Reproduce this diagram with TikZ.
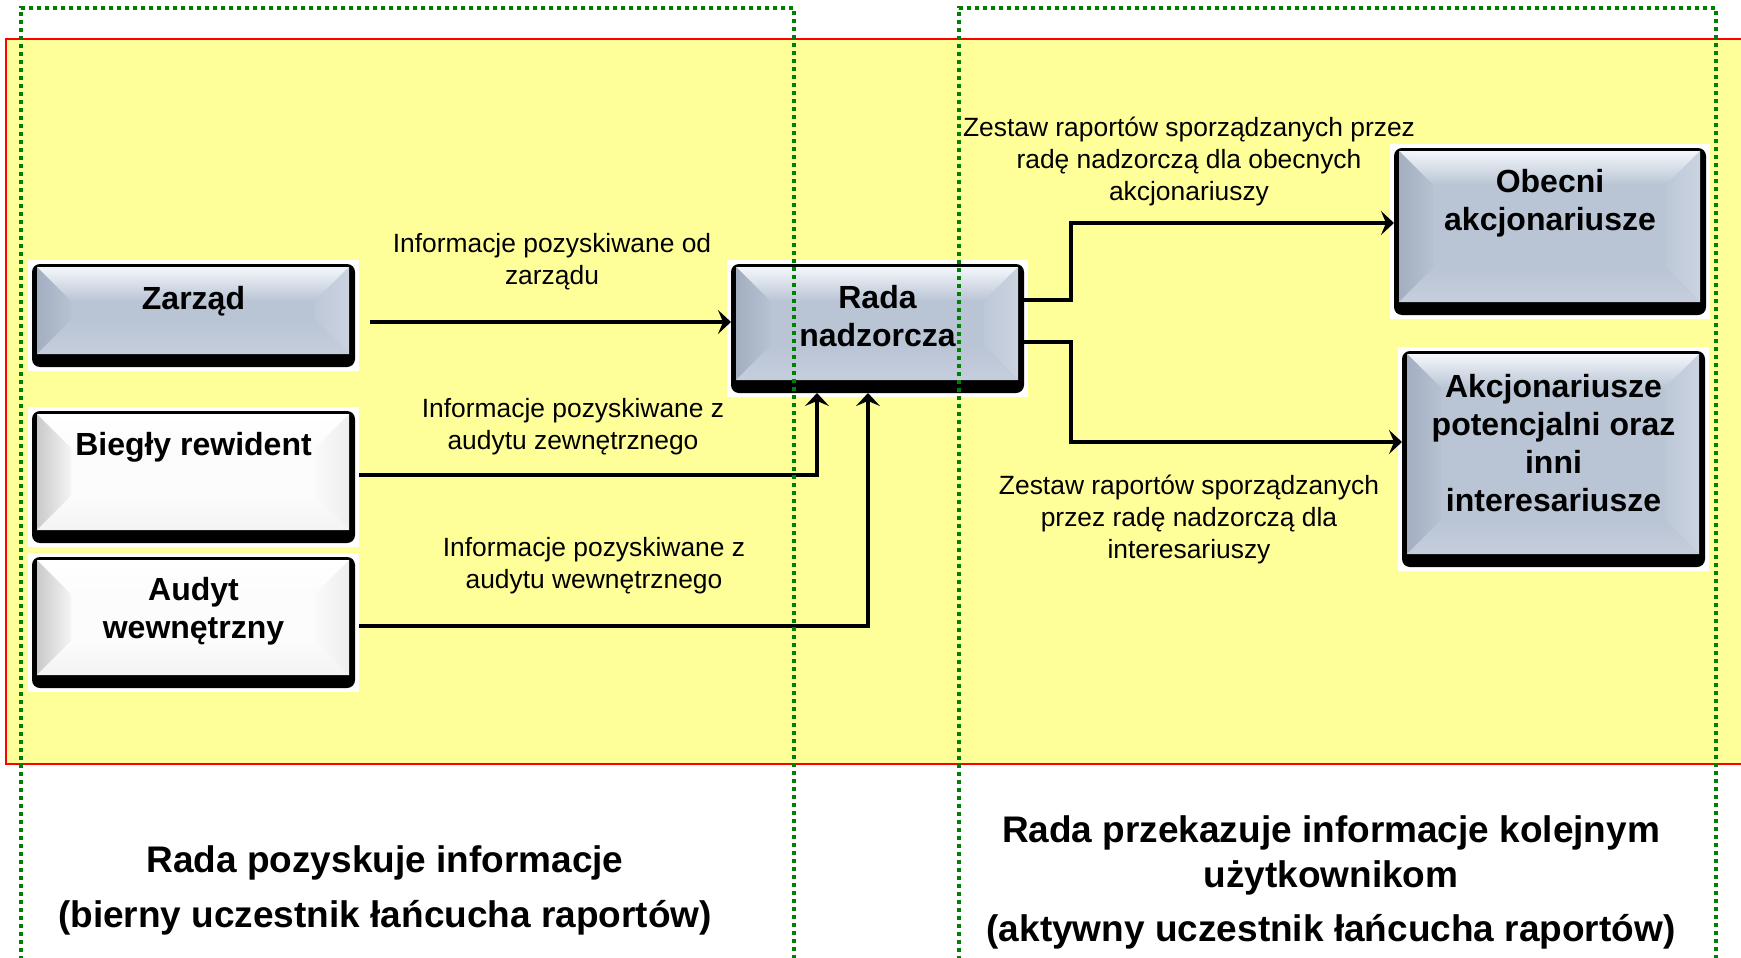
\documentclass[tikz,border=0pt]{standalone}
\usepackage{fontspec}
\setmainfont{Liberation Sans}
\usetikzlibrary{arrows.meta,calc}
\definecolor{bgyellow}{HTML}{FFFF99}
\definecolor{dotgreen}{HTML}{008000}
% blue key face
\definecolor{bmain}{HTML}{B9C4D5}
\definecolor{btop}{HTML}{F4F7FB}
\definecolor{bleft}{HTML}{A3AEC0}
\definecolor{bleftin}{HTML}{B6C1D2}
\definecolor{brightin}{HTML}{BDC8D8}
\definecolor{bright}{HTML}{CBD3E0}
\definecolor{bbot}{HTML}{C6CEDC}
% white key face
\definecolor{wmain}{HTML}{FCFCFC}
\definecolor{wtop}{HTML}{FFFFFF}
\definecolor{wleft}{HTML}{CACACA}
\definecolor{wleftin}{HTML}{F4F4F4}
\definecolor{wrightin}{HTML}{FAFAFA}
\definecolor{wright}{HTML}{EEEEEE}
\definecolor{wbot}{HTML}{F3F3F3}
\newcommand\keydraw[2]{%
  \fill[white] ([shift={(-4,-4)}]#1.north west) rectangle ([shift={(4,4)}]#1.south east);
  \fill[black, rounded corners=4pt] (#1.north west) rectangle (#1.south east);
  \coordinate (#1A) at ([shift={(5,3)}]#1.north west);
  \coordinate (#1B) at ([shift={(-6,3)}]#1.north east);
  \coordinate (#1C) at ([shift={(-6,-13)}]#1.south east);
  \coordinate (#1D) at ([shift={(5,-13)}]#1.south west);
  \coordinate (#1a) at ([shift={(34,34)}]#1A);
  \coordinate (#1b) at ([shift={(-34,34)}]#1B);
  \coordinate (#1c) at ([shift={(-34,-34)}]#1C);
  \coordinate (#1d) at ([shift={(34,-34)}]#1D);
  \fill[#2main] (#1A) rectangle (#1C);
  \shade[top color=#2top, bottom color=#2main] (#1A) -- (#1B) -- (#1b) -- (#1a) -- cycle;
  \shade[left color=#2left, right color=#2leftin] (#1A) -- (#1a) -- (#1d) -- (#1D) -- cycle;
  \shade[left color=#2rightin, right color=#2right] (#1B) -- (#1b) -- (#1c) -- (#1C) -- cycle;
  \shade[top color=#2main, bottom color=#2bot] (#1D) -- (#1d) -- (#1c) -- (#1C) -- cycle;
}
\tikzset{
  keynode/.style={inner sep=0pt, outer sep=0pt, draw=none},
  keytext/.style={font=\fontsize{16pt}{19pt}\selectfont\bfseries, align=center, inner sep=0pt},
  lbl/.style={font=\fontsize{13.2pt}{16pt}\selectfont, align=center, inner sep=0pt},
  ttl/.style={font=\fontsize{18.5pt}{22.5pt}\selectfont\bfseries, align=center, inner sep=0pt},
  conn/.style={line width=2pt, line join=miter, -{Stealth[length=6.5pt,width=12pt,inset=2.5pt]}},
  zone/.style={draw=dotgreen, line width=1.8pt, dash pattern=on 2pt off 2pt},
  area/.style={fill=bgyellow, draw=red, line width=1pt}
}
\begin{document}
\begin{tikzpicture}[x=0.5pt,y=-0.5pt]
\useasboundingbox (0,0) rectangle (1741,958);
\fill[white] (0,0) rectangle (1741,958);
\path[area] (6,39) rectangle (1750,764);

% boxes
\node[keynode, minimum width=161.5pt, minimum height=51.5pt] (zarzad) at (193.5,315.5) {};
\node[keynode, minimum width=161.5pt, minimum height=66pt] (biegly) at (193.5,477) {};
\node[keynode, minimum width=161.5pt, minimum height=65.5pt] (audyt) at (193.5,622.5) {};
\node[keynode, minimum width=146.5pt, minimum height=64.5pt] (rada) at (877.5,328.5) {};
\node[keynode, minimum width=156pt, minimum height=83.5pt] (obecni) at (1550,231.5) {};
\node[keynode, minimum width=151.5pt, minimum height=108pt] (akcj) at (1553.5,459) {};
\keydraw{zarzad}{b}
\keydraw{biegly}{w}
\keydraw{audyt}{w}
\keydraw{rada}{b}
\keydraw{obecni}{b}
\keydraw{akcj}{b}

\node[keytext] (zarzadt) at (193.5,301.5) {Zarząd};
\node[keytext] (bieglyt) at (193.5,447.5) {Biegły rewident};
\node[keytext] (audytt) at (193.5,611.5) {Audyt\\wewnętrzny};
\node[keytext] (radat) at (877.5,316.5) {Rada\\nadzorcza};
\node[keytext] (obecnit) at (1550,203) {Obecni\\akcjonariusze};
\node[keytext] (akcjt) at (1553.5,443.5) {Akcjonariusze\\potencjalni oraz\\inni\\interesariusze};

% connectors
\coordinate (z1) at ([yshift=-3.25pt]zarzad.east);
\draw[conn] ([xshift=7.5pt]z1) -- (z1 -| rada.west);
\coordinate (b1) at ([yshift=1pt]biegly.east);
\coordinate (b2) at ([xshift=-30.25pt]rada.south);
\draw[conn] ([xshift=2pt]b1) -| (b2);
\coordinate (a1) at ([yshift=-1.75pt]audyt.east);
\coordinate (a2) at ([xshift=-4.75pt]rada.south);
\draw[conn] ([xshift=2pt]a1) -| (a2);
\coordinate (r1) at ([yshift=14.25pt]rada.east);
\coordinate (o1) at ([yshift=4.25pt]obecni.west);
\draw[conn] (r1) -- ++(23.5pt,0) |- (o1);
\coordinate (r2) at ([yshift=-6.75pt]rada.east);
\coordinate (k1) at ([yshift=8.5pt]akcj.west);
\draw[conn] (r2) -- ++(23.5pt,0) |- (k1);

% labels
\node[lbl] (l1) at (552,261.5) {Informacje pozyskiwane od\\zarządu};
\node[lbl] (l2) at (573,426.5) {Informacje pozyskiwane z\\audytu zewnętrznego};
\node[lbl] (l3) at (594,565.5) {Informacje pozyskiwane z\\audytu wewnętrznego};
\node[lbl] (l4) at (1189,161.5) {Zestaw raportów sporządzanych przez\\radę nadzorczą dla obecnych\\akcjonariuszy};
\node[lbl] (l5) at (1189,519.5) {Zestaw raportów sporządzanych\\przez radę nadzorczą dla\\interesariuszy};

% titles
\node[ttl] (t1) at (385,890) {Rada pozyskuje informacje\\[5pt](bierny uczestnik łańcucha raportów)};
\node[ttl] (t2) at (1331,882) {Rada przekazuje informacje kolejnym\\użytkownikom\\[4.5pt](aktywny uczestnik łańcucha raportów)};

% zones
\draw[zone] (21,960) -- (21,8) -- (794,8) -- (794,960);
\draw[zone] (959,960) -- (959,8) -- (1716,8) -- (1716,960);
\end{tikzpicture}
\end{document}
